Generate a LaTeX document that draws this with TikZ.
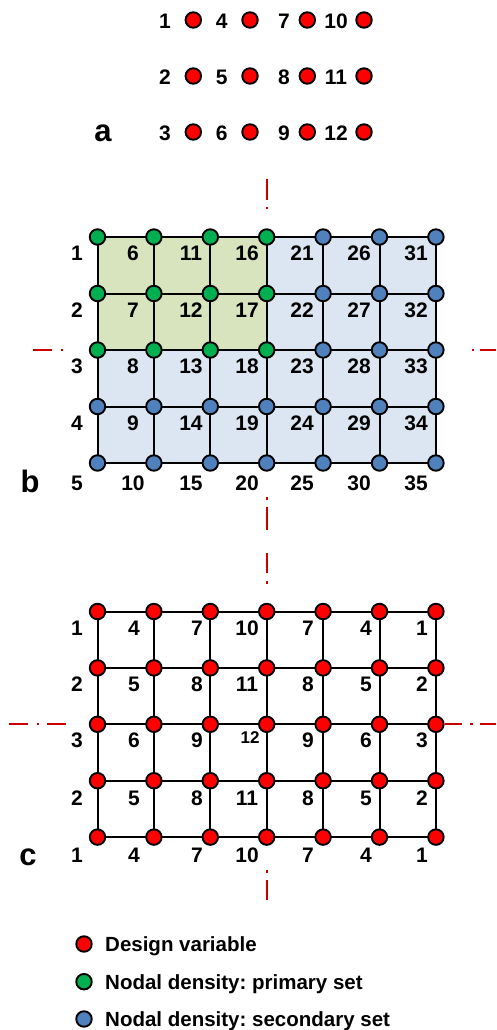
\documentclass[tikz,border=0pt]{standalone}
\usepackage{fontspec}
\setmainfont{Liberation Sans}
\frenchspacing
\definecolor{dvred}{RGB}{255,0,0}
\definecolor{pgreen}{RGB}{0,176,80}
\definecolor{sblue}{RGB}{79,129,189}
\definecolor{gfill}{RGB}{215,228,189}
\definecolor{bfill}{RGB}{220,230,242}
\definecolor{axred}{RGB}{204,0,0}
\begin{document}
\begin{tikzpicture}[x=1pt,y=-1pt,
  lab/.style={font=\fontsize{21}{24}\selectfont\bfseries, inner sep=0pt},
  smalllab/.style={font=\fontsize{17}{20}\selectfont\bfseries, inner sep=0pt},
  legtext/.style={font=\fontsize{20.5}{24}\selectfont\bfseries, inner sep=0pt, anchor=base west},
  panel/.style={font=\fontsize{31}{36}\selectfont\bfseries, inner sep=0pt},
  dot/.style={circle, draw=black, line width=1.9pt, minimum size=15.5pt, inner sep=0pt},
  rdot/.style={dot, fill=dvred},
  gdot/.style={dot, fill=pgreen},
  bdot/.style={dot, fill=sblue},
  gridline/.style={line width=2pt, black},
  axis/.style={draw=axred, line width=2pt}]

\useasboundingbox (0,0) rectangle (496,1030);

% ---------------- panel a ----------------
\foreach \j/\lx/\cx in {0/165/193.3, 1/221.7/250, 2/284/307.3, 3/336/364}{
  \foreach \r/\y in {0/20,1/76,2/132}{
    \pgfmathtruncatemacro\v{3*\j+\r+1}
    \node[lab] (al\v) at (\lx,\y+1) {\v};
    \node[rdot] (ad\v) at (\cx,\y) {};
  }
}
\node[panel] (pa) at (103,133) {a};

% ---------------- panel b ----------------
\foreach \i in {0,...,6}{
  \foreach \j in {0,...,4}{
    \coordinate (b\i-\j) at ({97.5+56.4*\i},{237+56.5*\j});
  }
}
\fill[bfill] (b0-0) rectangle (b6-4);
\fill[gfill] (b0-0) rectangle (b3-2);
\foreach \j in {0,...,4}{\draw[gridline] (b0-\j) -- (b6-\j);}
\foreach \i in {0,...,6}{\draw[gridline] (b\i-0) -- (b\i-4);}
\foreach \i in {0,...,6}{
  \foreach \j in {0,...,4}{
    \pgfmathtruncatemacro\g{and(\i<4,\j<3)}
    \ifnum\g=1
      \node[gdot] (bn\i-\j) at (b\i-\j) {};
    \else
      \node[bdot] (bn\i-\j) at (b\i-\j) {};
    \fi
  }
}
% row labels
\foreach \r in {1,...,4}{
  \node[lab] (blr\r) at (77,{237+56.5*(\r-1)+16.5}) {\r};
}
\node[lab] (blr5) at (77,483) {5};
% cell labels
\foreach \c/\lx in {1/133,2/191,3/247,4/302,5/359,6/416}{
  \foreach \r in {1,...,4}{
    \pgfmathtruncatemacro\v{5*\c+\r}
    \node[lab] (bl\v) at (\lx,{237+56.5*(\r-1)+16.5}) {\v};
  }
  \pgfmathtruncatemacro\w{5*\c+5}
  \node[lab] (bl\w) at (\lx,483) {\w};
}
\node[panel] (pb) at (30,481) {b};
% symmetry axes b
\draw[axis] (266.7,179) -- (266.7,200);
\draw[axis] (266.7,206.5) -- (266.7,209);
\draw[axis] (266.7,497) -- (266.7,499.5);
\draw[axis] (266.7,506.7) -- (266.7,530);
\draw[axis] (33,350) -- (52,350);
\draw[axis] (60.5,350) -- (63,350);
\draw[axis] (471.5,350) -- (474,350);
\draw[axis] (480,350) -- (496,350);

% ---------------- panel c ----------------
\foreach \i in {0,...,6}{
  \foreach \j in {0,...,4}{
    \coordinate (c\i-\j) at ({97.5+56.4*\i},{611.5+56.4*\j});
  }
}
\foreach \j in {0,...,4}{\draw[gridline] (c0-\j) -- (c6-\j);}
\foreach \i in {0,...,6}{\draw[gridline] (c\i-0) -- (c\i-4);}
\foreach \i in {0,...,6}{
  \foreach \j in {0,...,4}{
    \node[rdot] (cn\i-\j) at (c\i-\j) {};
  }
}
\foreach \c/\m/\lx in {0/0/77,1/1/134,2/2/197,3/3/247,4/2/308,5/1/366,6/0/422}{
  \foreach \r/\rr/\ly in {0/1/628,1/2/684,2/3/740,3/2/798,4/1/855}{
    \pgfmathtruncatemacro\v{3*\m+\rr}
    \ifnum\v=12
      \node[smalllab] (cl\c-\r) at (250,738) {12};
    \else
      \node[lab] (cl\c-\r) at (\lx,\ly) {\v};
    \fi
  }
}
\node[panel] (pc) at (28,857) {c};
% symmetry axes c
\draw[axis] (266.7,553) -- (266.7,573);
\draw[axis] (266.7,581) -- (266.7,583.5);
\draw[axis] (266.7,870) -- (266.7,872.5);
\draw[axis] (266.7,880) -- (266.7,900);
\draw[axis] (9.3,724) -- (28,724);
\draw[axis] (36.5,724) -- (39,724);
\draw[axis] (46.7,724) -- (66,724);
\draw[axis] (445,724) -- (461.7,724);
\draw[axis] (470,724) -- (472.5,724);
\draw[axis] (480,724) -- (496,724);

% ---------------- legend ----------------
\node[rdot] (leg1) at (84,944) {};
\node[legtext] (legt1) at (105,951.5) {Design variable};
\node[gdot] (leg2) at (84,981.7) {};
\node[legtext] (legt2) at (105,989.2) {Nodal density: primary set};
\node[bdot] (leg3) at (84,1019) {};
\node[legtext] (legt3) at (105,1026.3) {Nodal density: secondary set};
\end{tikzpicture}
\end{document}
